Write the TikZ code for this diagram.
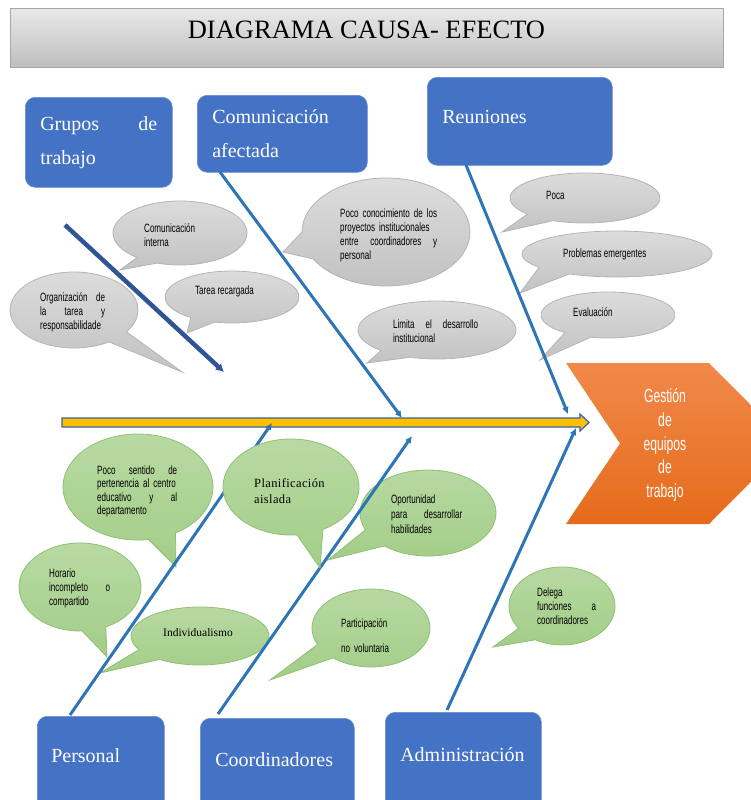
\documentclass[tikz,border=0pt]{standalone}
\usepackage{fontspec}
\setmainfont{Liberation Serif}
\newfontfamily\narrowsans[FakeStretch=0.67]{Liberation Sans}
\newfontfamily\effectsans[FakeStretch=0.64]{Liberation Sans}
\newfontfamily\spacedserif[LetterSpace=3]{Liberation Serif}
\usetikzlibrary{arrows.meta,shadings}

\definecolor{boxblue}{HTML}{4472C4}
\definecolor{bonecol}{HTML}{2E75B6}
\definecolor{darkbone}{HTML}{2F5597}
\definecolor{spinefill}{HTML}{FFC000}
\definecolor{spineline}{HTML}{3A5FA8}
\definecolor{grayA}{HTML}{DDDDDD}
\definecolor{grayB}{HTML}{C2C2C2}
\definecolor{grayL}{HTML}{B4B4B4}
\definecolor{greenA}{HTML}{B8DAA3}
\definecolor{greenB}{HTML}{A3CD88}
\definecolor{greenL}{HTML}{8FC073}
\definecolor{orangeA}{HTML}{F1894A}
\definecolor{orangeB}{HTML}{E56B1B}
\definecolor{titleA}{HTML}{E9E9E9}
\definecolor{titleB}{HTML}{BEBEBE}

% speech bubble: style, cx, cy, rx, ry, start angle, end angle, tail tip
\newcommand\speechbubble[8]{%
  \path[#1] (#2,#3) ++(#6:#4 and #5)
    arc[start angle=#6, end angle=#7, x radius=#4, y radius=#5]
    -- #8 -- cycle;}

\tikzset{
  causebox/.style={fill=boxblue, draw=boxblue!80!white, line width=0.6pt,
    rounded corners=10pt, text=white, font=\fontsize{20}{34}\selectfont,
    align=left, inner xsep=15pt, inner ysep=0pt, anchor=north west},
  bone/.style={draw=bonecol, line width=3pt, -{Latex[length=7pt,width=7pt]}},
  mainbone/.style={draw=darkbone, line width=4.5pt, -{Latex[length=8pt,width=9pt]}},
  graybub/.style={top color=grayA, bottom color=grayB, draw=grayL, line width=0.8pt},
  greenbub/.style={top color=greenA, bottom color=greenB, draw=greenL, line width=0.8pt},
  note/.style={font=\narrowsans\fontsize{12}{14}\selectfont, inner sep=0pt,
    anchor=base west, align=left},
  serifnote/.style={font=\fontsize{12}{16}\selectfont, inner sep=0pt,
    anchor=base west, align=left},
}

\begin{document}
\begin{tikzpicture}[x=1pt, y=-1pt]
\useasboundingbox (0,0) rectangle (751,800);
\clip (0,0) rectangle (751,800);

% title bar
\node[top color=titleA, bottom color=titleB, draw=gray!70, line width=0.6pt,
  minimum width=713pt, minimum height=59pt, inner sep=0pt, anchor=north west]
  (titlebar) at (10,8) {};
\node[font=\fontsize{26.5}{30}\selectfont, inner sep=0pt] (title) at (366.5,30)
  {DIAGRAMA CAUSA- EFECTO};

% cause categories
\node[causebox, text width=117pt, minimum width=147pt, minimum height=90pt]
  (grupos) at (25,97) {Grupos \hfill de\\trabajo};
\node[causebox, text width=140pt, minimum width=170pt, minimum height=77pt]
  (comun) at (197,95) {Comunicación\\afectada};
\node[causebox, text width=155pt, minimum width=185pt, minimum height=88pt,
  text height=14pt, text depth=10pt]
  (reun) at (427,77) {Reuniones};
\node[causebox, text width=99pt, minimum width=127pt, minimum height=100pt,
  inner xsep=14pt, text height=14pt, text depth=22pt]
  (personal) at (37,716) {Personal};
\node[causebox, text width=124pt, minimum width=154pt, minimum height=100pt,
  text height=14pt, text depth=18pt]
  (coord) at (200,718) {Coordinadores};
\node[causebox, text width=126pt, minimum width=156pt, minimum height=100pt,
  text height=14pt, text depth=16pt]
  (admin) at (385,712) {Administración};

% effect
\path[top color=orangeA, bottom color=orangeB]
  (566,363) -- (709,363) -- (789,443.5) -- (709,524) -- (566,524) -- (620,443.5) -- cycle;
\node[font=\effectsans\fontsize{19}{23.8}\selectfont, text=white, align=center,
  inner sep=0pt] (effect) at (665,445) {Gestión\\de\\equipos\\de\\trabajo};

% spine
\path[fill=spinefill, draw=spineline, line width=1.2pt]
  (62,418) -- (580,418) -- (580,414) -- (589,422.5) -- (580,431) -- (580,427)
  -- (62,427) -- cycle;

% gray bubbles (upper causes)
\speechbubble{graybub}{180}{233}{67}{32}{130}{470}{(120,270)}
\speechbubble{graybub}{232}{297}{67}{26}{128}{465}{(187,333)}
\speechbubble{graybub}{74}{310}{64}{38}{57}{395}{(182,372)}
\speechbubble{graybub}{386}{232}{84}{54}{180}{510}{(283,252)}
\speechbubble{graybub}{437}{330}{79}{29}{135}{470}{(367,363)}
\speechbubble{graybub}{585}{198}{75}{25}{140}{475}{(502,232)}
\speechbubble{graybub}{617}{254}{95}{23}{145}{480}{(520,293)}
\speechbubble{graybub}{608}{315}{67}{23}{130}{465}{(540,360)}

% green bubbles (lower causes)
\speechbubble{greenbub}{138}{487}{75}{53}{82}{420}{(176,567)}
\speechbubble{greenbub}{80}{587}{61}{44}{88}{425}{(107,657)}
\speechbubble{greenbub}{200}{636}{69}{29}{152}{486}{(100,673)}
\speechbubble{greenbub}{428}{513}{68}{43}{157}{490}{(328,560)}
\speechbubble{greenbub}{371}{628}{59}{39}{155}{490}{(270,680)}
\speechbubble{greenbub}{562}{606}{53}{39}{145}{480}{(493,647)}

% bones
\coordinate (g1) at (65,225);   \coordinate (g2) at (224,372);
\coordinate (c1) at (220,172);  \coordinate (c2) at (402,418);
\coordinate (r1) at (466,165);  \coordinate (r2) at (568,414);
\coordinate (p1) at (70,715);   \coordinate (p2) at (272,423);
\coordinate (k1) at (218,714);  \coordinate (k2) at (412,436);
\coordinate (a1) at (447,710);  \coordinate (a2) at (576,428);
\draw[mainbone] (g1) -- (g2);
\draw[bone] (c1) -- (c2);
\draw[bone] (r1) -- (r2);
\draw[bone] (p1) -- (p2);
\draw[bone] (k1) -- (k2);
\draw[bone] (a1) -- (a2);

% this bubble lies over the Personal bone
\speechbubble{greenbub}{291}{487}{68}{48}{85}{422}{(320,568)}

% bubble texts
\node[note, text width=70pt] (ci) at (144,232) {Comunicación\\interna};
\node[note] (tr) at (195,294) {Tarea recargada};
\node[note, text width=65pt] (org) at (40,301)
  {Organización \hfill de\\la \hfill tarea \hfill y\\responsabilidade};
\node[note, text width=97pt] (pc) at (340,217)
  {Poco conocimiento de los\\proyectos institucionales\\entre \hfill coordinadores \hfill y\\personal};
\node[note, text width=85pt] (li) at (393,328)
  {Limita \hfill el \hfill desarrollo\\institucional};
\node[note] (poca) at (546,199) {Poca};
\node[note] (pe) at (563,257) {Problemas emergentes};
\node[note] (ev) at (573,316) {Evaluación};

\node[note, text width=80pt, font=\narrowsans\fontsize{12}{13.5}\selectfont] (ps) at (97,474)
  {Poco \hfill sentido \hfill de\\pertenencia al centro\\educativo \hfill y \hfill al\\departamento};
\node[note, text width=61pt] (ho) at (49,577)
  {Horario\\incompleto \hfill o\\compartido};
\node[serifnote, font=\fontsize{11.5}{16}\selectfont] (ind) at (163,636) {Individualismo};
\node[serifnote, text width=90pt, font=\spacedserif\fontsize{12.5}{16}\selectfont]
  (plan) at (254,487) {Planificación\\aislada};
\node[note, text width=71pt, font=\narrowsans\fontsize{12}{15}\selectfont] (op) at (391,503)
  {Oportunidad\\para \hfill desarrollar\\habilidades};
\node[note, text width=80pt] (pa) at (341,627) {Participación\\[11pt]no voluntaria};
\node[note, text width=59pt] (de) at (537,596)
  {Delega\\funciones \hfill a\\coordinadores};
\end{tikzpicture}
\end{document}
